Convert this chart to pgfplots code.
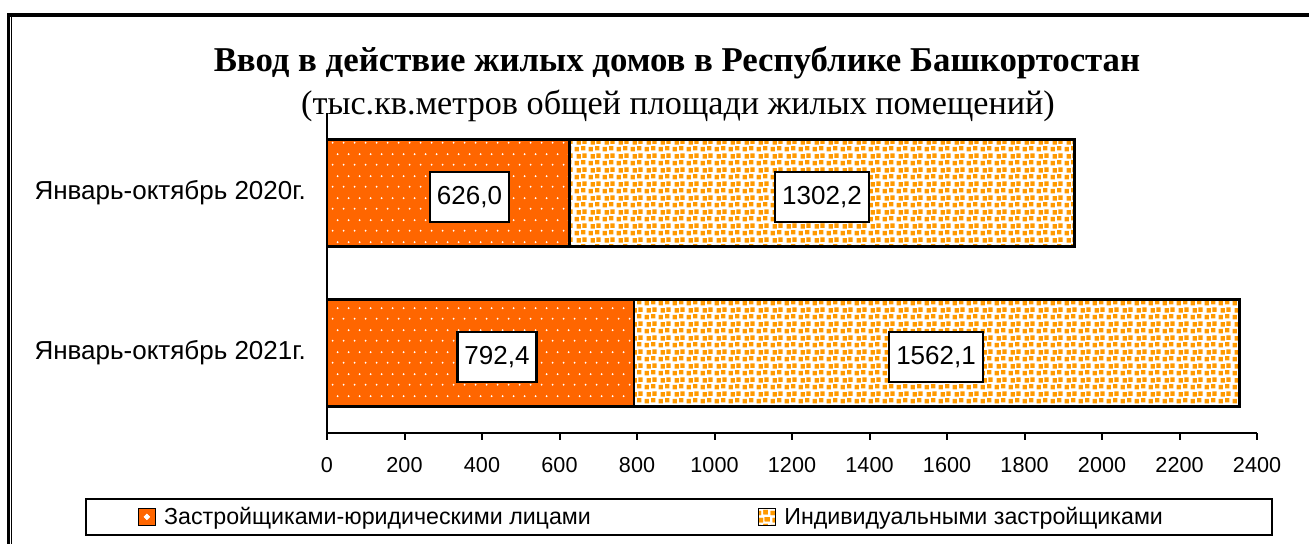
\documentclass[border=0pt]{standalone}
\usepackage{pgfplots}
\pgfplotsset{compat=1.18}
\usetikzlibrary{patterns.meta}
\usepackage{fontspec}
\setmainfont{Liberation Sans}
\newfontfamily\tnr{Liberation Serif}
\definecolor{myorange}{HTML}{FF6600}
\definecolor{sqorange}{HTML}{FF9900}

\tikzdeclarepattern{
  name=whitedots,
  type=colored,
  bottom left={(0pt,0pt)},
  top right={(5.5pt,11pt)},
  tile size={(5.5pt,11pt)},
  code={
    \fill[white] (1.4pt,2.75pt) circle (0.55pt);
    \fill[white] (4.15pt,8.25pt) circle (0.55pt);
  }
}
\tikzdeclarepattern{
  name=orangesquares,
  type=colored,
  bottom left={(0pt,0pt)},
  top right={(7pt,7pt)},
  tile size={(7pt,7pt)},
  code={
    \fill[sqorange] (0.3pt,0.4pt) rectangle ++(2.3pt,2.3pt);
    \fill[sqorange] (3.8pt,0.9pt) rectangle ++(2.3pt,2.3pt);
    \fill[sqorange] (1.4pt,4.0pt) rectangle ++(2.3pt,2.3pt);
    \fill[sqorange] (4.5pt,4.4pt) rectangle ++(2.3pt,2.3pt);
  }
}

\pgfplotstableread{
y   v
0   792.4
1   626.0
}\seriesA
\pgfplotstableread{
y   v
0   1562.1
1   1302.2
}\seriesB
\pgfplotstableread{
x      y   label
438.7  0   792,4
367.7  1   626,0
1571.6 0   1562,1
1277.4 1   1302,2
}\labels

\begin{document}
\begin{tikzpicture}
\useasboundingbox (0pt,0pt) rectangle (654.5pt,272pt);
% frame
\draw[line width=1.5pt] (4.25pt,0pt) -- (4.25pt,265.5pt);
\draw[line width=0.6pt] (5.9pt,0pt) -- (5.9pt,264pt);
\draw[line width=2pt] (3.5pt,264.65pt) -- (654.5pt,264.65pt);
% titles
\node[anchor=base, font=\tnr\bfseries\fontsize{17.4}{21}\selectfont] at (338.5pt,236pt) {Ввод в действие жилых домов в Республике Башкортостан};
\node[anchor=base, font=\tnr\fontsize{17.1}{20}\selectfont] at (339pt,214.5pt) {(тыс.кв.метров общей площади жилых помещений)};

\begin{axis}[
  at={(163.5pt,55.5pt)}, anchor=south west,
  scale only axis, width=465pt, height=160pt,
  xbar stacked, bar width=53.5pt,
  xmin=0, xmax=2400, ymin=-0.5, ymax=1.5,
  axis x line*=bottom, axis y line*=left,
  axis line style={-, line width=1pt},
  xtick={0,200,...,2400},
  ytick={0,1},
  yticklabels={Январь-октябрь 2021г., Январь-октябрь 2020г.},
  y tick style={draw=none},
  x tick style={line width=1pt, black},
  tick align=outside, major tick length=3.5pt,
  /pgf/number format/assume math mode=true,
  /pgf/number format/1000 sep={},
  xticklabel style={font=\fontsize{10.8}{13}\selectfont, yshift=-5pt},
  yticklabel style={font=\fontsize{13}{15}\selectfont, xshift=-3.5pt},
  legend columns=2,
  legend style={at={(-0.2602,-0.3219)}, anchor=south west,
    draw=black, line width=1pt, inner ysep=2pt, inner xsep=8.5pt,
    font=\fontsize{11.6}{14}\selectfont,
    /tikz/every even column/.append style={column sep=81.5pt},
    /tikz/every odd column/.append style={column sep=2pt}},
  legend image code/.code={\draw[#1, draw=black, line width=0.8pt] (0pt,-4.25pt) rectangle (8.5pt,4.25pt);},
]
\addplot[fill=myorange, postaction={pattern=whitedots}, draw=black, line width=1.4pt,
  legend image code/.code={\path (-17pt,0pt); \draw[fill=myorange, draw=black, line width=0.8pt] (0pt,-4.25pt) rectangle (8.5pt,4.25pt); \fill[white] (4.25pt,0pt) circle (0.6pt);}]
  table[x=v, y=y] {\seriesA};
\addlegendentry{Застройщиками-юридическими лицами}
\addplot[fill=white, postaction={pattern=orangesquares}, draw=black, line width=1.4pt,
  legend image code/.code={\draw[fill=white, postaction={pattern=orangesquares}, draw=black, line width=0.8pt] (0pt,-4.25pt) rectangle (8.5pt,4.25pt);}]
  table[x=v, y=y] {\seriesB};
\addlegendentry{Индивидуальными застройщиками\hspace*{44pt}}
\end{axis}

\begin{axis}[
  at={(163.5pt,55.5pt)}, anchor=south west,
  scale only axis, width=465pt, height=160pt,
  xmin=0, xmax=2400, ymin=-0.5, ymax=1.5,
  hide axis,
]
\addplot[only marks, mark=none, draw=none,
  nodes near coords, point meta=explicit symbolic,
  every node near coord/.append style={anchor=center, draw=black, fill=white,
    line width=1.2pt, minimum height=25pt, inner xsep=3.5pt,
    font=\fontsize{13}{15}\selectfont, yshift=-2pt}]
  table[x=x, y=y, meta=label] {\labels};
\end{axis}
\end{tikzpicture}
\end{document}
